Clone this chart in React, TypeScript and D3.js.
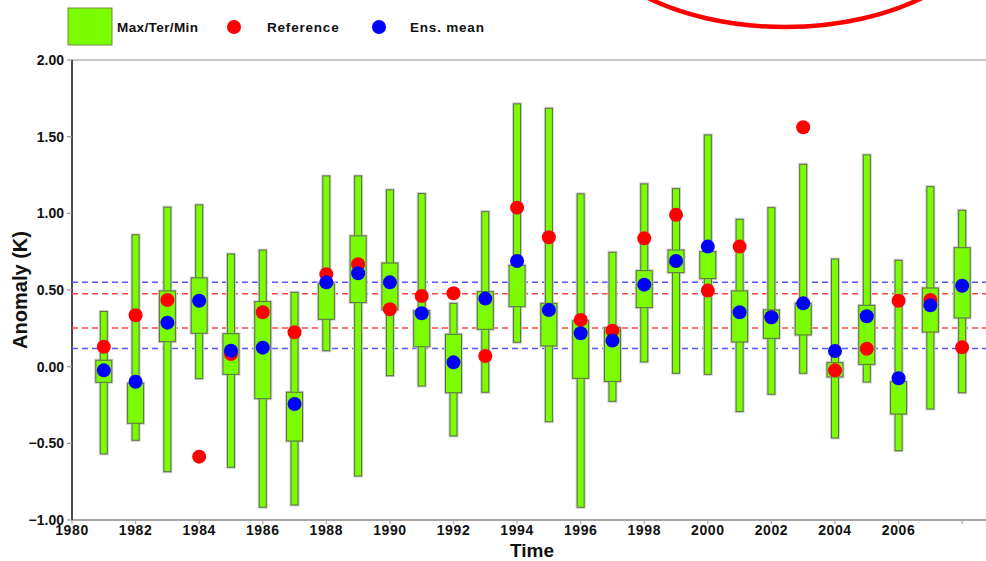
import React from "react";
import * as d3 from "d3";

const years = [1981, 1982, 1983, 1984, 1985, 1986, 1987, 1988, 1989, 1990, 1991, 1992, 1993, 1994,
  1995, 1996, 1997, 1998, 1999, 2000, 2001, 2002, 2003, 2004, 2005, 2006, 2007, 2008];
const maxVals = [0.36, 0.86, 1.04, 1.055, 0.735, 0.76, 0.485, 1.244, 1.244, 1.153, 1.129, 0.413, 1.011, 1.714,
  1.685, 1.127, 0.746, 1.192, 1.161, 1.511, 0.961, 1.037, 1.32, 0.702, 1.381, 0.694, 1.174, 1.02];
const minVals = [-0.569, -0.48, -0.685, -0.078, -0.656, -0.917, -0.902, 0.104, -0.713, -0.059, -0.126, -0.452, -0.167, 0.159,
  -0.359, -0.917, -0.226, 0.031, -0.043, -0.05, -0.293, -0.18, -0.043, -0.465, -0.1, -0.548, -0.276, -0.17];
const upperTer = [0.042, -0.108, 0.494, 0.579, 0.215, 0.424, -0.167, 0.544, 0.853, 0.676, 0.365, 0.211, 0.489, 0.661,
  0.413, 0.3, 0.254, 0.626, 0.761, 0.75, 0.494, 0.37, 0.413, 0.026, 0.4, -0.098, 0.513, 0.776];
const lowerTer = [-0.102, -0.369, 0.163, 0.218, -0.05, -0.209, -0.485, 0.309, 0.418, 0.37, 0.13, -0.17, 0.244, 0.391,
  0.135, -0.076, -0.096, 0.385, 0.613, 0.574, 0.161, 0.185, 0.207, -0.067, 0.015, -0.309, 0.226, 0.318];
const reference = [0.13, 0.335, 0.435, -0.587, 0.083, 0.355, 0.224, 0.603, 0.668, 0.374, 0.461, 0.479, 0.07, 1.037,
  0.844, 0.305, 0.235, 0.837, 0.99, 0.496, 0.783, 0.322, 1.561, -0.024, 0.117, 0.43, 0.435, 0.126];
const ensMean = [-0.024, -0.098, 0.287, 0.43, 0.104, 0.124, -0.243, 0.55, 0.609, 0.55, 0.348, 0.028, 0.444, 0.689,
  0.37, 0.218, 0.17, 0.535, 0.689, 0.783, 0.355, 0.322, 0.413, 0.102, 0.329, -0.076, 0.4, 0.528];
const refTerciles = [0.476, 0.252];
const ensTerciles = [0.55, 0.118];
const yTicks = [2.0, 1.5, 1.0, 0.5, 0.0, -0.5, -1.0];
const xTicks = [1980, 1982, 1984, 1986, 1988, 1990, 1992, 1994, 1996, 1998, 2000, 2002, 2004, 2006, 2008];
const xTickLabels = ["1980", "1982", "1984", "1986", "1988", "1990", "1992", "1994", "1996", "1998", "2000", "2002", "2004", "2006", ""];
const legendLabels = ["Max/Ter/Min", "Reference", "Ens. mean"];

const W = 986, H = 561;
const L = 72, R = 986, T = 60, B = 520;
const GREEN = "#7CFC00";
const EDGE = "#5c6e4a";
const FONT = "'Liberation Sans', Arial, Helvetica, sans-serif";

export default function App() {
  const x = d3.scaleLinear().domain([1980, 2008.75]).range([L, R]);
  const y = d3.scaleLinear().domain([-1, 2]).range([B, T]);
  const whiskerW = 7;
  const boxW = 16;
  const r = 7;

  return (
    <svg width={W} height={H} style={{ position: "absolute", left: 0, top: 0, background: "#fff" }}
      fontFamily={FONT}>
      {/* frame */}
      <line x1={L} x2={R} y1={T} y2={T} stroke="#b5b5b5" strokeWidth={1.5} />
      <line x1={L} x2={R} y1={B} y2={B} stroke="#8a8a8a" strokeWidth={1.5} />
      <line x1={L} x2={L} y1={T} y2={B} stroke="#111" strokeWidth={1.5} />

      {/* y ticks */}
      {yTicks.map((t) => (
        <g key={"yt" + t}>
          <line x1={L - 5} x2={L} y1={y(t)} y2={y(t)} stroke="#999" strokeWidth={1.2} />
          <text x={L - 8} y={y(t)} dy="0.35em" textAnchor="end" fontSize={14} fontWeight="bold" fill="#111">
            {d3.format(".2f")(t)}
          </text>
        </g>
      ))}

      {/* x ticks */}
      {xTicks.map((t, i) => (
        <g key={"xt" + t}>
          <line x1={x(t)} x2={x(t)} y1={B} y2={B + 4} stroke="#aaa" strokeWidth={1.2} />
          <text x={x(t)} y={B + 15} textAnchor="middle" fontSize={14} fontWeight="bold" fill="#111" letterSpacing={0.6}>
            {xTickLabels[i]}
          </text>
        </g>
      ))}

      {/* axis titles */}
      <text transform={`translate(27,${(T + B) / 2}) rotate(-90)`} textAnchor="middle" fontSize={20} fontWeight="bold" fill="#111">
        Anomaly (K)
      </text>
      <text x={532} y={557} textAnchor="middle" fontSize={19} fontWeight="bold" fill="#111">Time</text>

      {/* tercile dashed lines */}
      {ensTerciles.map((v, i) => (
        <line key={"et" + i} x1={L} x2={R} y1={y(v)} y2={y(v)} stroke="#5555ff" strokeWidth={1.5} strokeDasharray="6,4" />
      ))}
      {refTerciles.map((v, i) => (
        <line key={"rt" + i} x1={L} x2={R} y1={y(v)} y2={y(v)} stroke="#ff4444" strokeWidth={1.5} strokeDasharray="6,4" />
      ))}

      {/* bars */}
      {years.map((yr, i) => {
        const cx = x(yr);
        return (
          <g key={"bar" + yr}>
            <rect x={cx - whiskerW / 2} y={y(maxVals[i])} width={whiskerW} height={y(minVals[i]) - y(maxVals[i])}
              fill="none" stroke="#cfcfcf" strokeWidth={3} />
            <rect x={cx - boxW / 2} y={y(upperTer[i])} width={boxW} height={y(lowerTer[i]) - y(upperTer[i])}
              fill="none" stroke="#cfcfcf" strokeWidth={3} />
            <rect x={cx - whiskerW / 2} y={y(maxVals[i])} width={whiskerW} height={y(minVals[i]) - y(maxVals[i])}
              fill={GREEN} stroke={EDGE} strokeWidth={1} />
            <rect x={cx - boxW / 2} y={y(upperTer[i])} width={boxW} height={y(lowerTer[i]) - y(upperTer[i])}
              fill={GREEN} stroke={EDGE} strokeWidth={1} />
          </g>
        );
      })}

      {/* reference points */}
      {years.map((yr, i) => (
        <circle key={"ref" + yr} cx={x(yr)} cy={y(reference[i])} r={r} fill="#ff0000" />
      ))}
      {/* ensemble mean points */}
      {years.map((yr, i) => (
        <circle key={"ens" + yr} cx={x(yr)} cy={y(ensMean[i])} r={r} fill="#0000ff" />
      ))}

      {/* legend */}
      <rect x={68} y={8} width={44} height={37} fill={GREEN} stroke="#6b8a4a" strokeWidth={1} />
      <text x={117} y={27} dy="0.35em" fontSize={13.5} fontWeight="bold" fill="#111" letterSpacing={0.4}>{legendLabels[0]}</text>
      <circle cx={234} cy={27} r={7} fill="#ff0000" />
      <text x={267} y={27} dy="0.35em" fontSize={13.5} fontWeight="bold" fill="#111" letterSpacing={0.8}>{legendLabels[1]}</text>
      <circle cx={379} cy={27} r={7} fill="#0000ff" />
      <text x={410} y={27} dy="0.35em" fontSize={13.5} fontWeight="bold" fill="#111" letterSpacing={0.8}>{legendLabels[2]}</text>

      {/* red annotation ellipse */}
      <ellipse cx={785} cy={-98} rx={214} ry={125} fill="none" stroke="#ff0000" strokeWidth={4.5} />
    </svg>
  );
}
